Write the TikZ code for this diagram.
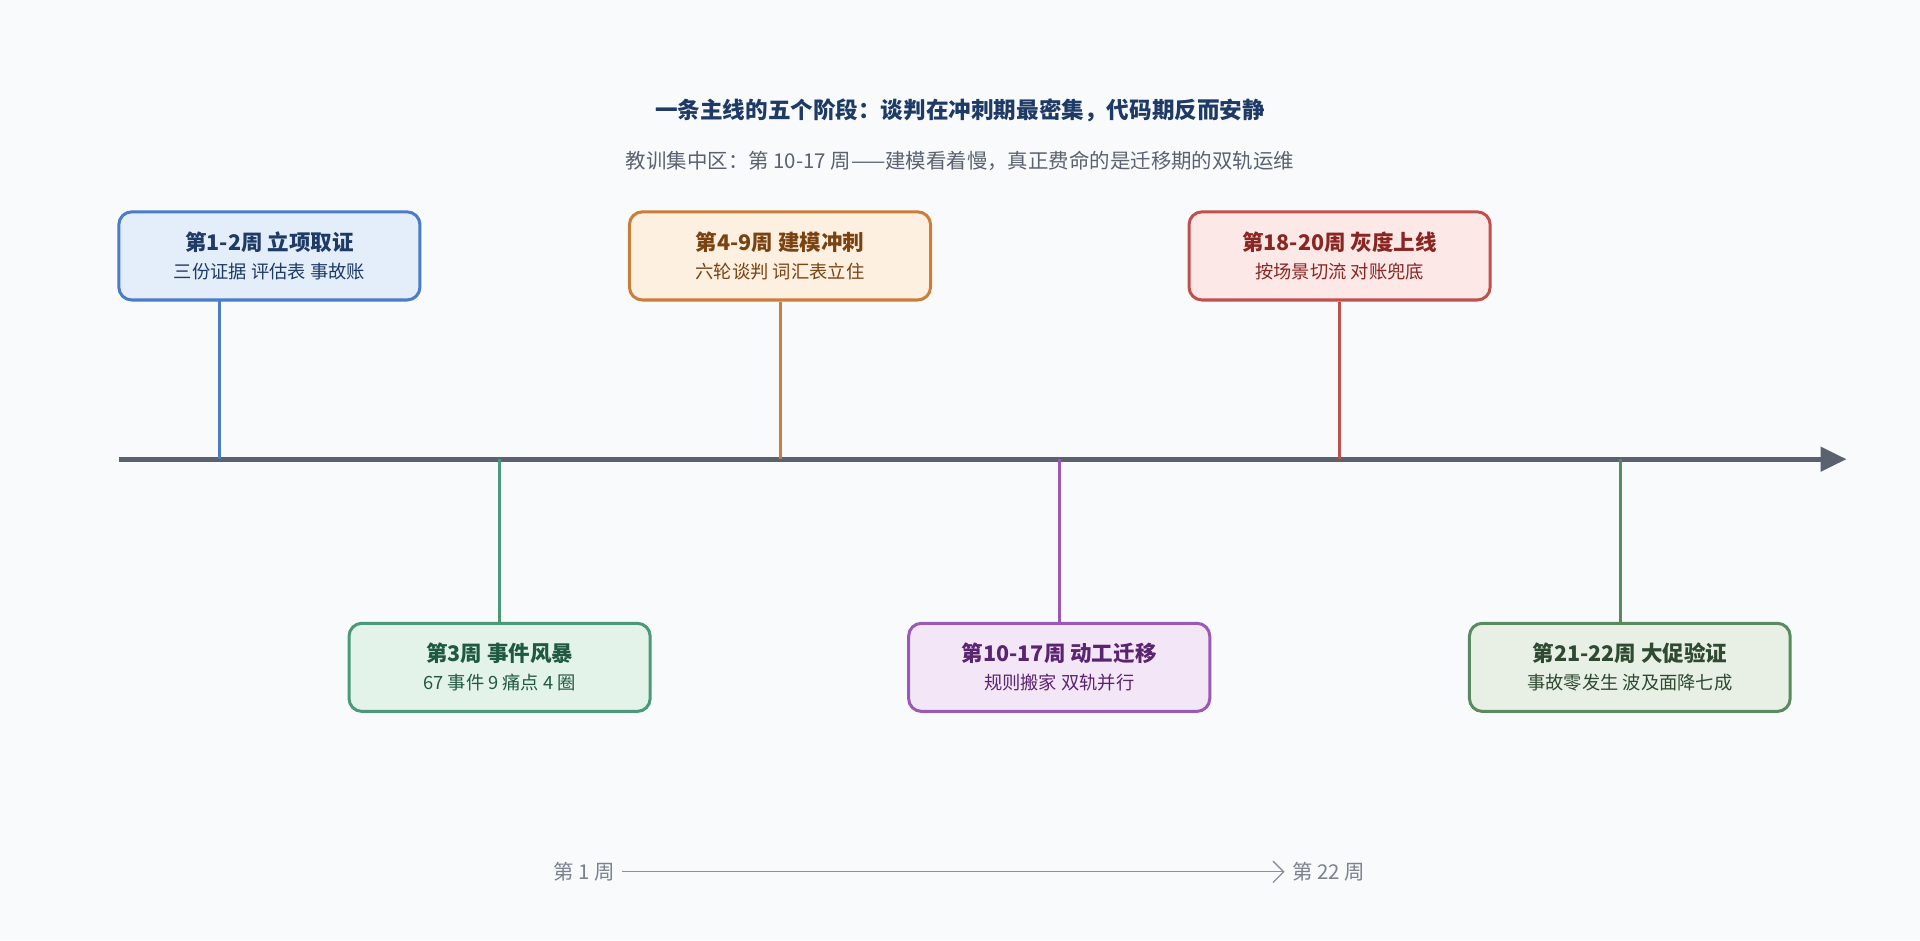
\documentclass[tikz,border=0pt]{standalone}
\usepackage{fontspec}
\setmainfont{Noto Sans CJK SC}
\usetikzlibrary{arrows.meta}
\definecolor{bg}{HTML}{F8FAFC}
\definecolor{axisc}{HTML}{5A6270}
\definecolor{bB}{HTML}{4A7CC7}\definecolor{fB}{HTML}{E4EEFA}\definecolor{tB}{HTML}{1E3A66}
\definecolor{bO}{HTML}{C97F3A}\definecolor{fO}{HTML}{FDF0E0}\definecolor{tO}{HTML}{7A4210}
\definecolor{bR}{HTML}{C0504D}\definecolor{fR}{HTML}{FDE8E8}\definecolor{tR}{HTML}{8A2622}
\definecolor{bG}{HTML}{4A9A7A}\definecolor{fG}{HTML}{E3F3EA}\definecolor{tG}{HTML}{1F5A40}
\definecolor{bP}{HTML}{9B59B6}\definecolor{fP}{HTML}{F3E6F7}\definecolor{tP}{HTML}{5A2470}
\definecolor{bH}{HTML}{5A8A5F}\definecolor{fH}{HTML}{E8F0E6}\definecolor{tH}{HTML}{2E4A30}
\begin{document}
\begin{tikzpicture}[x=0.02cm,y=-0.02cm,
 box/.style={draw=#1,line width=1.4pt,rounded corners=6pt,minimum width=4.92cm,minimum height=1.44cm,align=center,inner sep=2pt},
 stem/.style={draw=#1,line width=1.4pt},
 ttl/.style={font=\fontsize{10}{12}\selectfont\bfseries},
 sub/.style={font=\fontsize{8.5}{10}\selectfont}]
\fill[bg] (0,0) rectangle (1568,768);
\useasboundingbox (0,0) rectangle (1568,768);
\node[font=\fontsize{10.5}{12}\selectfont\bfseries,text=tB] (title) at (784,90) {一条主线的五个阶段：谈判在冲刺期最密集，代码期反而安静};
\node[font=\fontsize{9.5}{12}\selectfont,text=axisc] (subtitle) at (784,131) {教训集中区：第 10-17 周——建模看着慢，真正费命的是迁移期的双轨运维};
\coordinate (a0) at (97,375); \coordinate (a1) at (1508,375);
\draw[axisc,line width=2.4pt,-{Triangle[length=12pt,width=11pt]}] (a0) -- (a1);
% boxes
\node[box=bB,fill=fB] (n1) at (220,209) {\textcolor{tB}{\fontsize{10}{12}\selectfont\bfseries 第1-2周 立项取证}\\[1pt]\textcolor{tB}{\fontsize{8.5}{10}\selectfont 三份证据 评估表 事故账}};
\node[box=bG,fill=fG] (n2) at (408,545) {\textcolor{tG}{\fontsize{10}{12}\selectfont\bfseries 第3周 事件风暴}\\[1pt]\textcolor{tG}{\fontsize{8.5}{10}\selectfont 67 事件 9 痛点 4 圈}};
\node[box=bO,fill=fO] (n3) at (637,209) {\textcolor{tO}{\fontsize{10}{12}\selectfont\bfseries 第4-9周 建模冲刺}\\[1pt]\textcolor{tO}{\fontsize{8.5}{10}\selectfont 六轮谈判 词汇表立住}};
\node[box=bP,fill=fP] (n4) at (865,545) {\textcolor{tP}{\fontsize{10}{12}\selectfont\bfseries 第10-17周 动工迁移}\\[1pt]\textcolor{tP}{\fontsize{8.5}{10}\selectfont 规则搬家 双轨并行}};
\node[box=bR,fill=fR] (n5) at (1094,209) {\textcolor{tR}{\fontsize{10}{12}\selectfont\bfseries 第18-20周 灰度上线}\\[1pt]\textcolor{tR}{\fontsize{8.5}{10}\selectfont 按场景切流 对账兜底}};
\node[box=bH,fill=fH,minimum width=5.24cm] (n6) at (1331,545) {\textcolor{tH}{\fontsize{10}{12}\selectfont\bfseries 第21-22周 大促验证}\\[1pt]\textcolor{tH}{\fontsize{8.5}{10}\selectfont 事故零发生 波及面降七成}};
% stems
\coordinate (p1) at (179,375); \coordinate (p2) at (408,375); \coordinate (p3) at (637,375);
\coordinate (p4) at (865,375); \coordinate (p5) at (1094,375); \coordinate (p6) at (1323,375);
\draw[stem=bB] (p1) -- (179,245);
\draw[stem=bG] (p2) -- (n2.north);
\draw[stem=bO] (p3) -- (n3.south);
\draw[stem=bP] (p4) -- (n4.north);
\draw[stem=bR] (p5) -- (n5.south);
\draw[stem=bH] (p6) -- (1323,509);
% bottom scale
\node[font=\fontsize{9.5}{12}\selectfont,text=axisc!80] (w1) at (477,712) {第 1 周};
\node[font=\fontsize{9.5}{12}\selectfont,text=axisc!80] (w22) at (1085,712) {第 22 周};
\draw[axisc!70,line width=0.6pt,-{Straight Barb[length=5pt]}] (w1.east) -- (w22.west);
\end{tikzpicture}
\end{document}
